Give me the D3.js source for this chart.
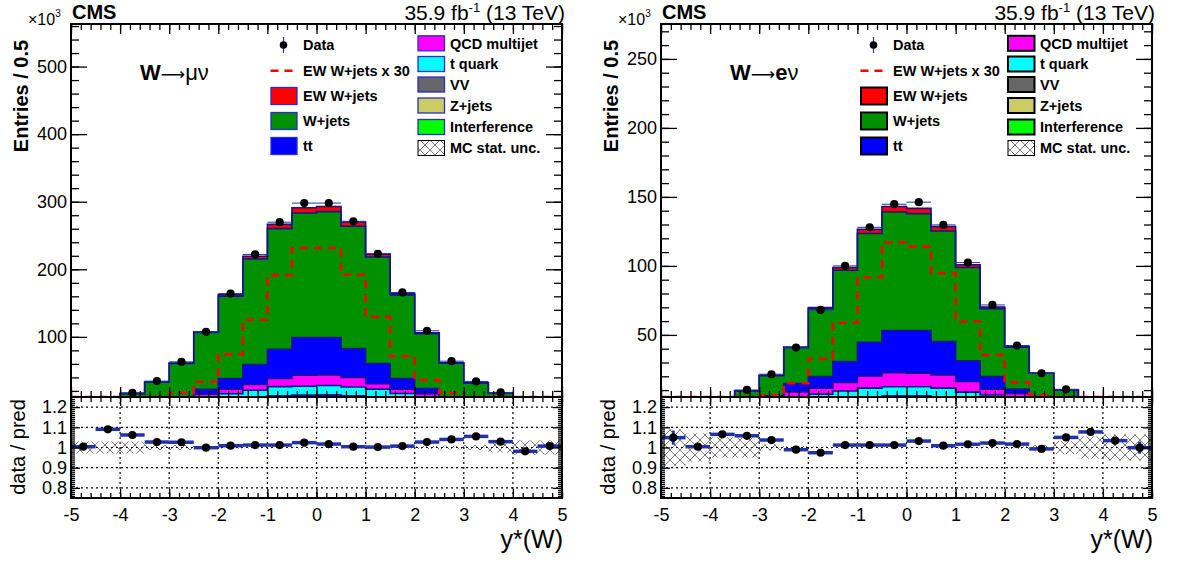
<!DOCTYPE html>
<html>
<head>
<meta charset="utf-8">
<script src="https://cdn.jsdelivr.net/npm/d3@7"></script>
<style>
  body { margin: 0; background: #fff; }
  text { font-family: "Liberation Sans", Arial, Helvetica, sans-serif; fill: #000; }
</style>
</head>
<body>
<svg id="chart" width="1182" height="567"></svg>
<script>
// bins of y*(W), width 0.5
const binLow = [-5, -4.5, -4, -3.5, -3, -2.5, -2, -1.5, -1, -0.5, 0, 0.5, 1, 1.5, 2, 2.5, 3, 3.5, 4, 4.5];
const binWidth = 0.5;

// W -> mu nu (x10^3 entries)
const muData   = [2.0, 5.5, 17.2, 34.5, 63.0, 107.4, 164.0, 222.0, 269.7, 298.0, 298.0, 271.0, 223.0, 165.7, 109.0, 64.0, 34.0, 17.7, 6.0, 2.0];
const muVV     = [0.02, 0.06, 0.2, 0.4, 0.7, 1.3, 2.0, 2.6, 3.2, 3.5, 3.5, 3.2, 2.7, 2.0, 1.3, 0.7, 0.4, 0.2, 0.07, 0.02];
const muZjets  = [0.07, 0.17, 0.5, 1.1, 2.0, 3.5, 5.4, 7.2, 8.8, 9.6, 9.7, 8.9, 7.3, 5.4, 3.5, 2.0, 1.1, 0.6, 0.2, 0.07];
const muInterf = [0, 0, 0.05, 0.1, 0.2, 0.3, 0.5, 0.7, 0.8, 0.9, 0.9, 0.8, 0.7, 0.5, 0.3, 0.2, 0.1, 0.05, 0, 0];
const muTquark = [0.05, 0.15, 0.5, 1.2, 2.5, 5.0, 8.0, 10.5, 13.5, 13.0, 14.0, 13.0, 12.0, 8.2, 5.0, 2.5, 1.2, 0.5, 0.15, 0.05];
const muQCD    = [0.03, 0.1, 0.4, 1.0, 2.4, 4.9, 6.6, 8.6, 12.1, 16.3, 15.6, 14.1, 7.9, 6.4, 5.9, 2.4, 1.0, 0.4, 0.1, 0.03];
const muTT     = [0.05, 0.2, 0.6, 1.5, 3.5, 7.4, 15.9, 29.4, 43.2, 55.7, 55.3, 42.6, 29.9, 15.9, 7.6, 3.5, 1.5, 0.6, 0.2, 0.05];
const muWjets  = [1.75, 4.27, 13.75, 27.97, 49.53, 83.98, 121.63, 156.22, 178.52, 184.28, 186.28, 181.0, 157.68, 123.72, 81.2, 49.63, 26.57, 14.65, 5.28, 1.75];
const muEW     = [0.03, 0.1, 0.2, 0.33, 0.57, 1.12, 2.47, 4.18, 6.38, 7.72, 7.72, 6.4, 4.32, 2.38, 1.2, 0.57, 0.33, 0.2, 0.1, 0.03];
const muRatio    = [1.004, 1.09, 1.062, 1.027, 1.026, 0.999, 1.009, 1.012, 1.012, 1.024, 1.017, 1.004, 1.002, 1.007, 1.027, 1.04, 1.055, 1.029, 0.981, 1.007];
const muRatioErr = [0.012, 0.008, 0.005, 0.003, 0.002, 0.002, 0.001, 0.001, 0.001, 0.001, 0.001, 0.001, 0.001, 0.001, 0.002, 0.002, 0.003, 0.005, 0.008, 0.012];
const muMCunc    = [0.03, 0.03, 0.03, 0.012, 0.012, 0.006, 0.005, 0.004, 0.004, 0.004, 0.004, 0.004, 0.004, 0.005, 0.007, 0.009, 0.012, 0.025, 0.035, 0.035];

// W -> e nu (x10^3 entries)
const eData   = [0.6, 1.8, 4.5, 10.1, 21.5, 40.8, 68.1, 100.0, 128.0, 144.7, 146.2, 129.7, 102.4, 71.7, 42.3, 22.2, 10.6, 4.5, 1.8, 0.6];
const eVV     = [0.01, 0.02, 0.05, 0.12, 0.25, 0.5, 0.85, 1.2, 1.5, 1.7, 1.7, 1.5, 1.2, 0.85, 0.5, 0.27, 0.12, 0.05, 0.02, 0.01];
const eZjets  = [0.01, 0.04, 0.1, 0.25, 0.55, 1.1, 1.9, 2.7, 3.3, 3.7, 3.7, 3.3, 2.7, 1.9, 1.1, 0.55, 0.25, 0.1, 0.04, 0.01];
const eInterf = [0, 0, 0.02, 0.04, 0.08, 0.15, 0.25, 0.33, 0.4, 0.45, 0.45, 0.4, 0.33, 0.25, 0.15, 0.08, 0.04, 0.02, 0, 0];
const eTquark = [0.02, 0.07, 0.2, 0.5, 1.2, 2.75, 4.0, 5.17, 6.2, 6.55, 6.55, 6.2, 4.27, 3.5, 2.55, 1.2, 0.5, 0.2, 0.07, 0.02];
const eQCD    = [0.05, 0.15, 0.4, 1.0, 2.2, 4.2, 4.4, 6.1, 8.9, 10.3, 9.8, 9.6, 7.7, 4.2, 3.2, 1.8, 0.9, 0.4, 0.15, 0.05];
const eTT     = [0.02, 0.1, 0.3, 0.7, 1.5, 6.0, 8.4, 15.2, 24.4, 30.4, 30.9, 24.2, 15.0, 9.1, 3.2, 1.5, 0.7, 0.3, 0.1, 0.02];
const eWjets  = [0.45, 1.38, 3.09, 6.81, 14.74, 26.05, 49.01, 66.14, 78.74, 86.0, 84.8, 80.14, 67.61, 49.22, 30.38, 16.79, 7.46, 3.04, 1.33, 0.48];
const eEW     = [0.01, 0.03, 0.07, 0.13, 0.21, 0.5, 1.09, 1.96, 3.06, 3.9, 3.8, 3.16, 1.99, 1.18, 0.52, 0.21, 0.13, 0.07, 0.03, 0.01];
const eRatio    = [1.049, 1.004, 1.065, 1.058, 1.037, 0.989, 0.974, 1.012, 1.012, 1.012, 1.032, 1.009, 1.016, 1.022, 1.017, 0.993, 1.05, 1.077, 1.034, 0.999];
const eRatioErr = [0.035, 0.015, 0.008, 0.005, 0.003, 0.002, 0.002, 0.001, 0.001, 0.001, 0.001, 0.001, 0.001, 0.002, 0.002, 0.003, 0.005, 0.008, 0.015, 0.03];
const eMCunc    = [0.09, 0.07, 0.05, 0.05, 0.015, 0.008, 0.005, 0.004, 0.004, 0.004, 0.004, 0.004, 0.004, 0.005, 0.008, 0.012, 0.033, 0.055, 0.065, 0.065];

// stack, bottom to top
const stackKeys   = ["VV", "Zjets", "Interf", "tquark", "QCD", "tt", "Wjets", "EW"];
const stackColors = ["#666666", "#cccc66", "#00ff00", "#00ffff", "#ff00ff", "#0000ff", "#009000", "#ff0000"];

// legend
const legendCol1 = ["Data", "EW W+jets x 30", "EW W+jets", "W+jets", "tt"];
const legendCol2 = ["QCD multijet", "t quark", "VV", "Z+jets", "Interference", "MC stat. unc."];

const xTicks = [-5, -4, -3, -2, -1, 0, 1, 2, 3, 4, 5];
const ratioTicks = [0.8, 0.9, 1.0, 1.1, 1.2];
const ratioTickLabels = ["0.8", "0.9", "1", "1.1", "1.2"];

const outline = "#14148c";
const dataBlue = "#2233aa";

const svg = d3.select("#chart");
const defs = svg.append("defs");
defs.append("pattern")
    .attr("id", "hatch")
    .attr("patternUnits", "userSpaceOnUse")
    .attr("width", 10).attr("height", 10)
    .append("path")
    .attr("d", "M0,0L10,10M10,0L0,10")
    .attr("stroke", "#222")
    .attr("stroke-width", 0.6);

//Panel geometry
const W = 491, mainTop = 24, mainBot = 397, ratioBot = 498;

function tickAxis(g, axis) {
    g.call(axis);
    g.select(".domain").remove();
    g.selectAll(".tick line").attr("stroke", "#000").attr("stroke-width", 1.3);
}

function drawPanel(p) {
    const g = svg.append("g");
    const x0 = p.left, x1 = p.left + W;

    const x = d3.scaleLinear().domain([-5, 5]).range([x0, x1]);
    const y = d3.scaleLinear().domain(p.yDomain).range([mainBot, mainTop]).clamp(true);
    const r = d3.scaleLinear().domain([0.75, 1.25]).range([ratioBot, mainBot]).clamp(true);

    const clipId = "clip" + p.id;
    defs.append("clipPath").attr("id", clipId)
        .append("rect").attr("x", x0).attr("y", mainTop).attr("width", W).attr("height", mainBot - mainTop);
    const rclipId = "rclip" + p.id;
    defs.append("clipPath").attr("id", rclipId)
        .append("rect").attr("x", x0).attr("y", mainBot).attr("width", W).attr("height", ratioBot - mainBot);

    // stacked histograms
    const rows = binLow.map((b, i) => {
        const row = {};
        stackKeys.forEach(k => row[k] = p.comp[k][i]);
        return row;
    });
    const series = d3.stack().keys(stackKeys)(rows);

    const mainG = g.append("g").attr("clip-path", "url(#" + clipId + ")");

    const area = d3.area()
        .x(d => x(d[0]))
        .y0(d => y(d[1]))
        .y1(d => y(d[2]));
    const line = d3.line()
        .x(d => x(d[0]))
        .y(d => y(d[1]));

    const stepPts = (vals) => {
        const pts = [[-5, 0]];
        vals.forEach((v, i) => {
            pts.push([binLow[i], v]);
            pts.push([binLow[i] + binWidth, v]);
        });
        pts.push([5, 0]);
        return pts;
    };

    series.forEach((s, si) => {
        const pts = [];
        s.forEach((d, i) => {
            pts.push([binLow[i], d[0], d[1]]);
            pts.push([binLow[i] + binWidth, d[0], d[1]]);
        });
        mainG.append("path")
            .attr("d", area(pts))
            .attr("fill", stackColors[si]);
    });
    series.forEach((s) => {
        mainG.append("path")
            .attr("d", line(stepPts(s.map(d => d[1]))))
            .attr("fill", "none")
            .attr("stroke", outline)
            .attr("stroke-width", 1.6);
    });

    // MC stat uncertainty on total
    const total = series[series.length - 1].map(d => d[1]);
    total.forEach((t, i) => {
        mainG.append("rect")
            .attr("x", x(binLow[i]))
            .attr("width", x(binLow[i] + binWidth) - x(binLow[i]))
            .attr("y", y(t * (1 + p.mcUnc[i])))
            .attr("height", Math.max(0, y(t * (1 - p.mcUnc[i])) - y(t * (1 + p.mcUnc[i]))))
            .attr("fill", "url(#hatch)");
    });

    // EW W+jets x 30
    mainG.append("path")
        .attr("d", line(stepPts(p.comp.EW.map(v => v * 30))))
        .attr("fill", "none")
        .attr("stroke", "#ff0000")
        .attr("stroke-width", 2.6)
        .attr("stroke-dasharray", "8,6");

    // data points
    p.data.forEach((v, i) => {
        if (v < p.yDomain[0]) return;
        mainG.append("line")
            .attr("x1", x(binLow[i])).attr("x2", x(binLow[i] + binWidth))
            .attr("y1", y(v)).attr("y2", y(v))
            .attr("stroke", dataBlue).attr("stroke-width", 1);
        mainG.append("circle")
            .attr("cx", x(binLow[i] + binWidth / 2)).attr("cy", y(v))
            .attr("r", 4.1).attr("fill", "#000");
    });

    // main frame ticks
    const yMinor = d3.range(p.minorStep, p.yDomain[1], p.minorStep).filter(v => v > p.yDomain[0]);
    const yMajor = d3.range(p.majorStep, p.yDomain[1], p.majorStep);
    const xMinor = d3.range(-5, 5.001, 0.2).map(v => +v.toFixed(1));

    tickAxis(g.append("g").attr("transform", `translate(${x0},0)`),
        d3.axisLeft(y).tickValues(yMinor).tickSize(-8).tickFormat(""));
    tickAxis(g.append("g").attr("transform", `translate(${x0},0)`),
        d3.axisLeft(y).tickValues(yMajor).tickSize(-16).tickFormat(""));
    tickAxis(g.append("g").attr("transform", `translate(${x1},0)`),
        d3.axisRight(y).tickValues(yMinor).tickSize(-8).tickFormat(""));
    tickAxis(g.append("g").attr("transform", `translate(${x1},0)`),
        d3.axisRight(y).tickValues(yMajor).tickSize(-16).tickFormat(""));
    tickAxis(g.append("g").attr("transform", `translate(0,${mainTop})`),
        d3.axisTop(x).tickValues(xMinor).tickSize(-6).tickFormat(""));
    tickAxis(g.append("g").attr("transform", `translate(0,${mainTop})`),
        d3.axisTop(x).tickValues(xTicks).tickSize(-10).tickFormat(""));
    tickAxis(g.append("g").attr("transform", `translate(0,${mainBot})`),
        d3.axisBottom(x).tickValues(xMinor).tickSize(-6).tickFormat(""));
    tickAxis(g.append("g").attr("transform", `translate(0,${mainBot})`),
        d3.axisBottom(x).tickValues(xTicks).tickSize(-10).tickFormat(""));

    // y labels
    const yLab = g.append("g").attr("transform", `translate(${x0},0)`)
        .call(d3.axisLeft(y).tickValues(yMajor).tickSize(0).tickPadding(4));
    yLab.select(".domain").remove();
    yLab.selectAll("text").attr("font-size", 18).attr("font-family", "Liberation Sans, Arial, sans-serif");

    g.append("rect")
        .attr("x", x0).attr("y", mainTop).attr("width", W).attr("height", mainBot - mainTop)
        .attr("fill", "none").attr("stroke", "#000").attr("stroke-width", 2);

    // ratio panel
    const rG = g.append("g");
    const rClip = rG.append("g").attr("clip-path", "url(#" + rclipId + ")");
    // grid
    ratioTicks.forEach(v => {
        rClip.append("line")
            .attr("x1", x0).attr("x2", x1).attr("y1", r(v)).attr("y2", r(v))
            .attr("stroke", "#000").attr("stroke-width", 1.2).attr("stroke-dasharray", "2,3");
    });
    xTicks.slice(1, -1).forEach(v => {
        rClip.append("line")
            .attr("x1", x(v)).attr("x2", x(v)).attr("y1", mainBot).attr("y2", ratioBot)
            .attr("stroke", "#000").attr("stroke-width", 1.2).attr("stroke-dasharray", "2,3");
    });
    // MC stat band
    p.mcUnc.forEach((u, i) => {
        rClip.append("rect")
            .attr("x", x(binLow[i]))
            .attr("width", x(binLow[i] + binWidth) - x(binLow[i]))
            .attr("y", r(1 + u))
            .attr("height", r(1 - u) - r(1 + u))
            .attr("fill", "url(#hatch)");
    });
    // data/pred
    p.ratio.forEach((v, i) => {
        rClip.append("line")
            .attr("x1", x(binLow[i])).attr("x2", x(binLow[i] + binWidth))
            .attr("y1", r(v)).attr("y2", r(v))
            .attr("stroke", dataBlue).attr("stroke-width", 3.5);
        rClip.append("line")
            .attr("x1", x(binLow[i] + binWidth / 2)).attr("x2", x(binLow[i] + binWidth / 2))
            .attr("y1", r(v - p.ratioErr[i])).attr("y2", r(v + p.ratioErr[i]))
            .attr("stroke", dataBlue).attr("stroke-width", 3);
        rClip.append("circle")
            .attr("cx", x(binLow[i] + binWidth / 2)).attr("cy", r(v))
            .attr("r", 4.1).attr("fill", "#000");
    });

    const rMinor = d3.range(0.76, 1.25, 0.01).map(v => +v.toFixed(2));
    tickAxis(rG.append("g").attr("transform", `translate(${x0},0)`),
        d3.axisLeft(r).tickValues(rMinor).tickSize(-4).tickFormat(""));
    tickAxis(rG.append("g").attr("transform", `translate(${x0},0)`),
        d3.axisLeft(r).tickValues(ratioTicks).tickSize(-9).tickFormat(""));
    tickAxis(rG.append("g").attr("transform", `translate(${x1},0)`),
        d3.axisRight(r).tickValues(rMinor).tickSize(-4).tickFormat(""));
    tickAxis(rG.append("g").attr("transform", `translate(${x1},0)`),
        d3.axisRight(r).tickValues(ratioTicks).tickSize(-9).tickFormat(""));
    tickAxis(rG.append("g").attr("transform", `translate(0,${ratioBot})`),
        d3.axisBottom(x).tickValues(xMinor).tickSize(-5).tickFormat(""));
    tickAxis(rG.append("g").attr("transform", `translate(0,${ratioBot})`),
        d3.axisBottom(x).tickValues(xTicks).tickSize(-9).tickFormat(""));
    tickAxis(rG.append("g").attr("transform", `translate(0,${mainBot})`),
        d3.axisTop(x).tickValues(xMinor).tickSize(-5).tickFormat(""));
    tickAxis(rG.append("g").attr("transform", `translate(0,${mainBot})`),
        d3.axisTop(x).tickValues(xTicks).tickSize(-9).tickFormat(""));

    const rLab = rG.append("g").attr("transform", `translate(${x0},0)`)
        .call(d3.axisLeft(r).tickValues(ratioTicks).tickSize(0).tickPadding(4)
            .tickFormat((d, i) => ratioTickLabels[i]));
    rLab.select(".domain").remove();
    rLab.selectAll("text").attr("font-size", 18).attr("font-family", "Liberation Sans, Arial, sans-serif");

    const xLab = rG.append("g").attr("transform", `translate(0,${ratioBot})`)
        .call(d3.axisBottom(x).tickValues(xTicks).tickSize(0).tickPadding(10).tickFormat(d => String(d)));
    xLab.select(".domain").remove();
    xLab.selectAll("text").attr("font-size", 18).attr("font-family", "Liberation Sans, Arial, sans-serif");

    rG.append("rect")
        .attr("x", x0).attr("y", mainBot).attr("width", W).attr("height", ratioBot - mainBot)
        .attr("fill", "none").attr("stroke", "#000").attr("stroke-width", 2);

    // titles and labels
    g.append("text").attr("x", x0 + 1).attr("y", 19)
        .attr("font-size", 20).attr("font-weight", "bold").text("CMS");
    const mult = g.append("text").attr("x", x0 - 43).attr("y", 25).attr("font-size", 16);
    mult.append("tspan").text("\u00d710");
    mult.append("tspan").attr("font-size", 10).attr("dy", -8).text("3");

    const lumi = g.append("text").attr("x", x1 + 3).attr("y", 20)
        .attr("font-size", 21).attr("text-anchor", "end");
    lumi.append("tspan").text("35.9 fb");
    lumi.append("tspan").attr("font-size", 13).attr("dy", -8).text("-1");
    lumi.append("tspan").attr("dy", 8).text(" (13 TeV)");

    const chan = g.append("text").attr("x", x0 + 69).attr("y", 80).attr("font-size", 22);
    chan.append("tspan").attr("font-weight", "bold").text("W");
    chan.append("tspan").attr("font-family", "DejaVu Sans").attr("font-size", 17).text("\u27f6");
    p.channel.forEach(c => chan.append("tspan").attr("font-weight", c.bold ? "bold" : "normal").text(c.t));

    g.append("text")
        .attr("transform", `translate(${x0 - 43},96) rotate(-90)`)
        .attr("text-anchor", "middle").attr("font-size", 20).attr("font-weight", "bold")
        .text("Entries / 0.5");
    g.append("text")
        .attr("transform", `translate(${x0 - 46},447) rotate(-90)`)
        .attr("text-anchor", "middle").attr("font-size", 20)
        .text("data / pred");
    g.append("text").attr("x", x1 + 1).attr("y", 548)
        .attr("text-anchor", "end").attr("font-size", 25)
        .text("y*(W)");

    // legend
    const lg = g.append("g");
    const col1Y = [45, 70.7, 96, 121, 146];
    const col2Y = [43.3, 64, 84.5, 105.5, 127, 148];
    const bx1 = x0 + 200, bx2 = x0 + 347;
    legendCol1.forEach((lab, i) => {
        const cy = col1Y[i];
        if (i === 0) {
            lg.append("line").attr("x1", x0 + 212.5).attr("x2", x0 + 212.5)
                .attr("y1", cy - 8).attr("y2", cy + 8)
                .attr("stroke", dataBlue).attr("stroke-width", 1.2);
            lg.append("circle").attr("cx", x0 + 212.5).attr("cy", cy).attr("r", 3.8).attr("fill", "#000");
        } else if (i === 1) {
            lg.append("line").attr("x1", bx1 - 0.5).attr("x2", bx1 + 27)
                .attr("y1", cy).attr("y2", cy)
                .attr("stroke", "#ff0000").attr("stroke-width", 2.6).attr("stroke-dasharray", "8,6");
        } else {
            const col = stackColors[stackKeys.indexOf(["EW", "Wjets", "tt"][i - 2])];
            lg.append("rect").attr("x", bx1).attr("y", cy - 8.5).attr("width", 26).attr("height", 17)
                .attr("fill", col).attr("stroke", p.legendStroke).attr("stroke-width", p.legendStrokeW);
        }
        lg.append("text").attr("x", x0 + 232).attr("y", cy + 5.2)
            .attr("font-size", 14.5).attr("font-weight", "bold").text(lab);
    });
    const col2Fill = ["QCD", "tquark", "VV", "Zjets", "Interf"].map(k => stackColors[stackKeys.indexOf(k)]);
    col2Fill.push("url(#hatch)");
    legendCol2.forEach((lab, i) => {
        const cy = col2Y[i];
        if (i === 5) {
            lg.append("rect").attr("x", bx2).attr("y", cy - 7.5).attr("width", 26.5).attr("height", 15)
                .attr("fill", "#fff");
        }
        lg.append("rect").attr("x", bx2).attr("y", cy - 7.5).attr("width", 26.5).attr("height", 15)
            .attr("fill", col2Fill[i])
            .attr("stroke", i === 5 ? "#000" : p.legendStroke)
            .attr("stroke-width", i === 5 ? 1 : p.legendStrokeW);
        lg.append("text").attr("x", x0 + 379).attr("y", cy + 5.2)
            .attr("font-size", 14.5).attr("font-weight", "bold").text(lab);
    });
}

drawPanel({
    id: "mu", left: 71,
    yDomain: [11, 563], majorStep: 100, minorStep: 20,
    data: muData, ratio: muRatio, ratioErr: muRatioErr, mcUnc: muMCunc,
    comp: { VV: muVV, Zjets: muZjets, Interf: muInterf, tquark: muTquark, QCD: muQCD, tt: muTT, Wjets: muWjets, EW: muEW },
    channel: [{ t: "\u03bc\u03bd", bold: false }],
    legendStroke: "#2a2ad0", legendStrokeW: 1.3
});

drawPanel({
    id: "e", left: 661,
    yDomain: [5, 275.3], majorStep: 50, minorStep: 10,
    data: eData, ratio: eRatio, ratioErr: eRatioErr, mcUnc: eMCunc,
    comp: { VV: eVV, Zjets: eZjets, Interf: eInterf, tquark: eTquark, QCD: eQCD, tt: eTT, Wjets: eWjets, EW: eEW },
    channel: [{ t: "e", bold: true }, { t: "\u03bd", bold: false }],
    legendStroke: "#000", legendStrokeW: 2
});
</script>
</body>
</html>
